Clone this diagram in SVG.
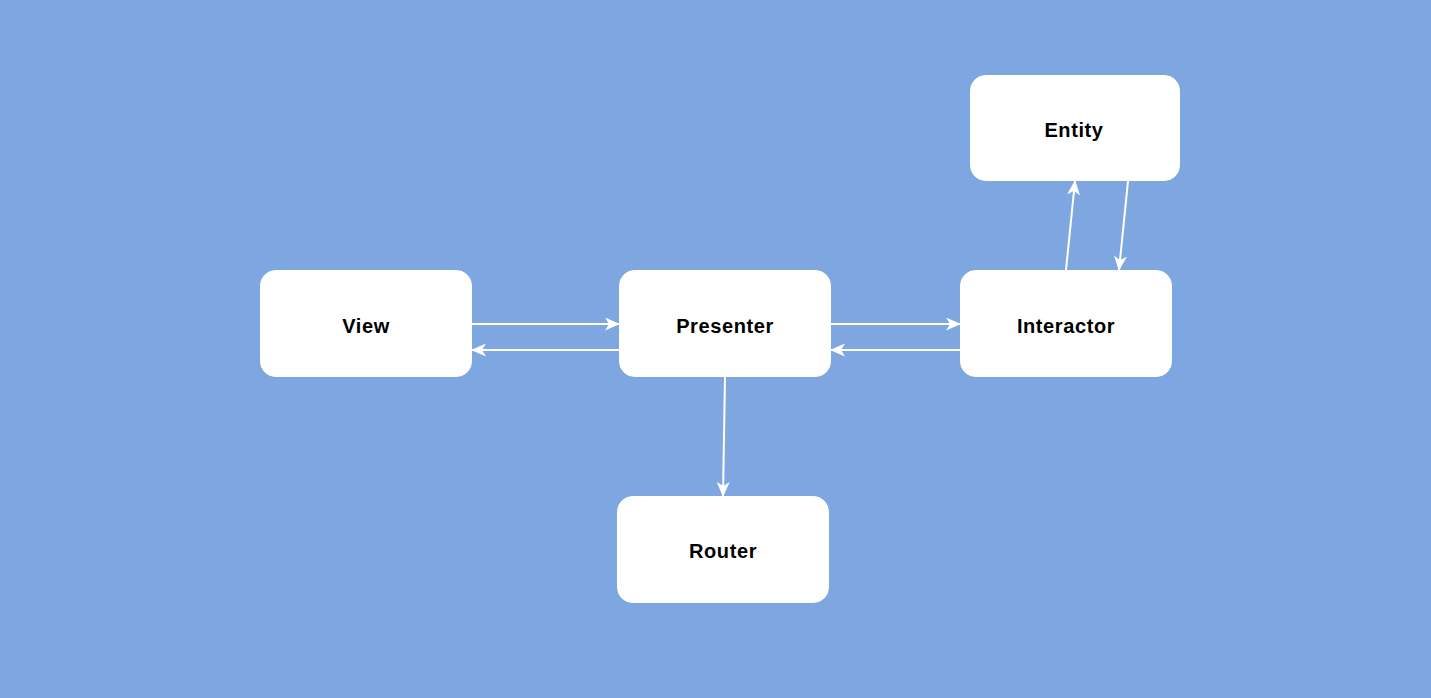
<svg xmlns="http://www.w3.org/2000/svg" width="1431" height="698" viewBox="0 0 1431 698">
<style>
.node rect{fill:#ffffff;stroke:#ffffff;stroke-width:1}
.node text{font-family:"Liberation Sans",Arial,sans-serif;font-weight:bold;font-size:20px;letter-spacing:0.6px;fill:#000000;text-anchor:middle;dominant-baseline:central}
.edge{stroke:#ffffff;stroke-width:2;fill:none;marker-end:url(#arr)}
</style>
<defs>
<marker id="arr" viewBox="0 0 15 13" refX="14" refY="6.5" markerWidth="15" markerHeight="13" markerUnits="userSpaceOnUse" orient="auto">
<path d="M0,0 L15,6.5 L0,13 L4,6.5 Z" fill="#ffffff"/>
</marker>
</defs>
<rect x="0" y="0" width="1431" height="698" fill="#7ea6e0"/>
<g id="connectors">
<line class="edge" x1="472" y1="324" x2="619" y2="324"/>
<line class="edge" x1="619" y1="350" x2="472" y2="350"/>
<line class="edge" x1="831" y1="324" x2="960" y2="324"/>
<line class="edge" x1="960" y1="350" x2="831" y2="350"/>
<line class="edge" x1="1066" y1="270" x2="1075" y2="181"/>
<line class="edge" x1="1128" y1="181" x2="1119" y2="270"/>
<line class="edge" x1="725" y1="377" x2="723" y2="496"/>
</g>
<g id="view" class="node"><rect x="260.5" y="270.5" width="211" height="106" rx="15"/><text x="366" y="326">View</text></g>
<g id="presenter" class="node"><rect x="619.5" y="270.5" width="211" height="106" rx="15"/><text x="725" y="326">Presenter</text></g>
<g id="interactor" class="node"><rect x="960.5" y="270.5" width="211" height="106" rx="15"/><text x="1066" y="326">Interactor</text></g>
<g id="entity" class="node"><rect x="970.5" y="75.5" width="209" height="105" rx="15"/><text x="1074" y="130">Entity</text></g>
<g id="router" class="node"><rect x="617.5" y="496.5" width="211" height="106" rx="15"/><text x="723" y="551">Router</text></g>
</svg>
